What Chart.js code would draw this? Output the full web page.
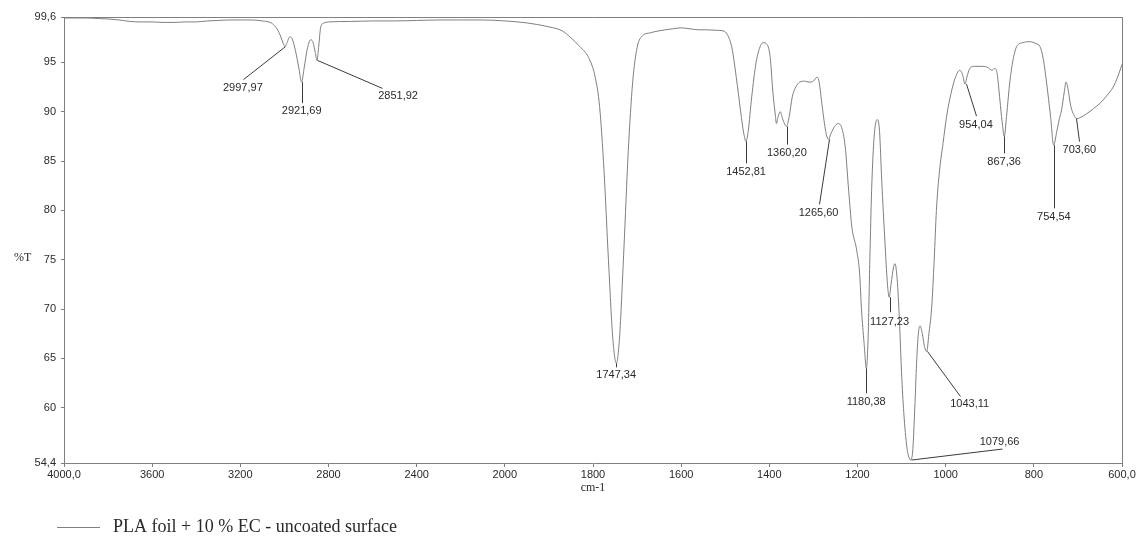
<!DOCTYPE html>
<html>
<head>
<meta charset="utf-8">
<script src="https://cdn.jsdelivr.net/npm/chart.js@4.4.1/dist/chart.umd.min.js"></script>
<style>
html,body{margin:0;padding:0;background:#fff;}
canvas{display:block;}
</style>
</head>
<body>
<canvas id="c" width="1143" height="540"></canvas>
<script>
// ---------- DATA ----------
const wavenumbers = [
4000,3950,3900,3850,3800,3750,3700,3650,3600,3550,3500,3450,3400,3350,3300,3250,3200,3150,3100,3060,3040,3020,3005,2998,2990,2975,2965,2950,2935,2922,2910,2895,2880,2870,2860,2852,2845,2835,2820,2800,2700,2600,2500,2400,2300,2200,2100,2000,1950,1900,1870,1850,1830,1810,1795,1785,1775,1765,1755,1747,1740,1730,1720,1710,1700,1690,1670,1650,1620,1600,1580,1560,1540,1520,1505,1495,1485,1475,1465,1458,1453,1448,1440,1430,1420,1414,1405,1398,1392,1386,1384,1380,1375,1370,1361,1355,1348,1340,1331,1320,1310,1300,1292,1287,1280,1272,1266,1260,1252,1244,1236,1228,1220,1213,1202,1195,1191,1185,1180,1176,1172,1168,1163,1158,1155,1150,1145,1138,1132,1128,1124,1118,1115,1110,1105,1100,1095,1088,1082,1080,1075,1070,1066,1062,1058,1053,1048,1043,1038,1032,1026,1021,1014,1006,998,991,980,968,962,956,952,945,935,920,905,895,888,883,877,872,867,862,854,846,839,825,809,795,786,778,771,762,755,748,742,737,731,727,722,718,714,708,703,695,680,665,650,635,620,610,600
];
const transmittance = [
99.5,99.5,99.5,99.45,99.4,99.3,99.15,99.1,99.1,99.05,99.05,99.1,99.1,99.2,99.25,99.3,99.3,99.3,99.2,99.0,98.6,97.8,96.9,96.6,96.9,97.6,97.4,96.2,94.5,93.0,94.5,96.5,97.3,97.0,96.0,95.2,96.5,98.6,99.0,99.1,99.15,99.2,99.2,99.25,99.3,99.3,99.3,99.2,99.0,98.6,98.2,97.5,96.6,95.5,93.5,90.5,84,75,67,64.5,67,76,86,93,96.5,97.6,98.0,98.2,98.4,98.5,98.4,98.3,98.3,98.25,98.2,97.8,96.5,93.5,90,87.8,87.0,88,91.5,95,96.7,97.0,96.8,95.5,92,89.5,88.8,89.5,90.0,89.3,88.5,89.5,91.5,92.5,93.0,93.1,93.0,93.1,93.5,93.0,90.5,88,87.2,87.8,88.5,88.8,88.4,86.5,82,78.4,76.0,73.5,70,66.5,64.0,67,75,82,87,89,89.2,88,83,77,72.5,71.2,72.5,74.3,74.6,73,69,63.5,59.5,56,54.8,54.7,55.5,60,64.5,67.5,68.3,67.5,66.2,65.7,67.5,70,75,80,84,86.8,89.5,91.2,93.2,94.2,93.8,92.8,93.5,94.4,94.6,94.6,94.5,94.2,94.4,93.8,91.2,89,87.5,89.5,93.2,95.5,96.6,97.0,97.1,96.9,96.6,95.2,92.9,89.5,86.6,88,89.3,90.2,92,93.0,92.2,91,90.2,89.6,89.3,89.4,89.8,90.3,90.85,91.6,92.5,93.5,94.8
];
const xTickValues = [4000,3600,3200,2800,2400,2000,1800,1600,1400,1200,1000,800,600];
const xTickLabels = ['4000,0','3600','3200','2800','2400','2000','1800','1600','1400','1200','1000','800','600,0'];
const yTickValues = [99.6,95,90,85,80,75,70,65,60,54.4];
const yTickLabels = ['99,6','95','90','85','80','75','70','65','60','54,4'];
const peakLabels = ['2997,97','2921,69','2851,92','1747,34','1452,81','1360,20','1265,60','1180,38','1127,23','1079,66','1043,11','954,04','867,36','754,54','703,60'];
const peakWn = [2997.97,2921.69,2851.92,1747.34,1452.81,1360.20,1265.60,1180.38,1127.23,1079.66,1043.11,954.04,867.36,754.54,703.60];
const peakT = [96.6,93.0,95.2,64.5,87.0,88.5,87.2,64.0,71.2,54.7,65.7,92.8,87.5,86.6,89.3];
const seriesLabel = 'PLA foil + 10 % EC - uncoated surface';

// ---------- leader-line layout (pixels, relative to the peak point) ----------
// [lineEndDx, lineEndDy, labelDx (from line end), labelDy (from line end), align]
const peakLayout = [
  [-42, 33, 0, 3, 'center'],
  [0, 21, 0, 2, 'center'],
  [65, 28, 16, 2, 'center'],
  [0, 4, 0, 2, 'center'],
  [0, 22, 0, 3, 'center'],
  [0, 18, 0, 3, 'center'],
  [-10, 65, 0, 3, 'center'],
  [0, 25, 0, 3, 'center'],
  [0, 15, 0, 4, 'center'],
  [91, -11, -2, -14, 'center'],
  [33, 45, 10, 2, 'center'],
  [10, 32, 0, 3, 'center'],
  [0, 17, 0, 3, 'center'],
  [0, 63, 0, 3, 'center'],
  [3, 23, 0, 3, 'center']
];

// ---------- custom FTIR axis: 4000-2000 compressed, 2000-600 expanded x2 ----------
class FtirScale extends Chart.LinearScale {
  _u(v) { return v >= 2000 ? 4000 - v : 2000 + 2 * (2000 - v); }
  determineDataLimits() { this.min = 600; this.max = 4000; }
  buildTicks() { return xTickValues.map(v => ({ value: v })); }
  getPixelForValue(v) { return this.getPixelForDecimal(this._u(v) / 4800); }
  getValueForPixel(p) {
    const u = this.getDecimalForPixel(p) * 4800;
    return u <= 2000 ? 4000 - u : 2000 - (u - 2000) / 2;
  }
}
FtirScale.id = 'ftir';
FtirScale.defaults = Chart.LinearScale.defaults;
Chart.register(FtirScale);

const GRAY = '#7f7f7f';
const TEXT = '#2a2a2a';

const decor = {
  id: 'decor',
  afterDraw(chart) {
    const { ctx, chartArea: a, scales } = chart;
    const xs = scales.x, ys = scales.y;
    ctx.save();
    // frame (top + right)
    ctx.strokeStyle = GRAY; ctx.lineWidth = 1;
    ctx.beginPath();
    ctx.moveTo(a.left, a.top + 0.5); ctx.lineTo(a.right + 0.5, a.top + 0.5); ctx.lineTo(a.right + 0.5, a.bottom);
    ctx.stroke();
    // peak annotations
    ctx.font = '11px "Liberation Sans", Arial, sans-serif';
    ctx.fillStyle = TEXT;
    ctx.strokeStyle = '#3a3a3a';
    for (let i = 0; i < peakWn.length; i++) {
      const px = xs.getPixelForValue(peakWn[i]);
      const py = ys.getPixelForValue(peakT[i]);
      const L = peakLayout[i];
      const ex = px + L[0], ey = py + L[1];
      ctx.beginPath(); ctx.moveTo(Math.round(px) + 0.5, py); ctx.lineTo(Math.round(ex) + 0.5, ey); ctx.stroke();
      ctx.textAlign = L[4];
      ctx.textBaseline = L[3] < 0 ? 'bottom' : 'top';
      ctx.fillText(peakLabels[i], ex + L[2], ey + (L[3] < 0 ? L[3] + 12 : L[3]));
    }
    // axis titles
    ctx.font = '12px "Liberation Serif", "Times New Roman", serif';
    ctx.textAlign = 'left'; ctx.textBaseline = 'middle';
    ctx.fillText('%T', 14, ys.getPixelForValue(75) - 2);
    ctx.textAlign = 'center';
    ctx.fillText('cm-1', (a.left + a.right) / 2, 488);
    // legend
    const ds = chart.data.datasets[0];
    ctx.strokeStyle = ds.borderColor; ctx.lineWidth = 1;
    ctx.beginPath(); ctx.moveTo(57, 527.5); ctx.lineTo(100, 527.5); ctx.stroke();
    ctx.font = '18px "Liberation Serif", "Times New Roman", serif';
    ctx.textAlign = 'left'; ctx.textBaseline = 'middle';
    ctx.fillText(ds.label, 113, 527);
    ctx.restore();
  }
};

new Chart(document.getElementById('c'), {
  type: 'line',
  data: {
    datasets: [{
      label: seriesLabel,
      data: wavenumbers.map((w, i) => ({ x: w, y: transmittance[i] })),
      borderColor: GRAY,
      borderWidth: 1,
      pointRadius: 0,
      fill: false,
      cubicInterpolationMode: 'monotone'
    }]
  },
  options: {
    responsive: false,
    animation: false,
    devicePixelRatio: 1,
    layout: { padding: { top: 17, right: 21, bottom: 0, left: 0 } },
    plugins: { legend: { display: false }, tooltip: { enabled: false } },
    scales: {
      x: {
        type: 'ftir',
        afterFit: s => { s.height = 77; },
        ticks: {
          autoSkip: false, maxRotation: 0, padding: 1, color: TEXT,
          font: { family: '"Liberation Sans", Arial, sans-serif', size: 11 },
          callback: (v, i) => xTickLabels[i]
        },
        grid: { drawOnChartArea: false, drawTicks: true, tickLength: 4, color: GRAY },
        border: { color: GRAY, width: 1 }
      },
      y: {
        type: 'linear',
        min: 54.4, max: 99.6,
        afterFit: s => { s.width = 64; },
        afterBuildTicks: s => { s.ticks = yTickValues.map(v => ({ value: v })); },
        ticks: {
          padding: 5, color: TEXT,
          font: { family: '"Liberation Sans", Arial, sans-serif', size: 11 },
          callback: (v, i) => yTickLabels[i]
        },
        grid: { drawOnChartArea: false, drawTicks: true, tickLength: 3, color: GRAY },
        border: { color: GRAY, width: 1 }
      }
    }
  },
  plugins: [decor]
});
</script>
</body>
</html>
